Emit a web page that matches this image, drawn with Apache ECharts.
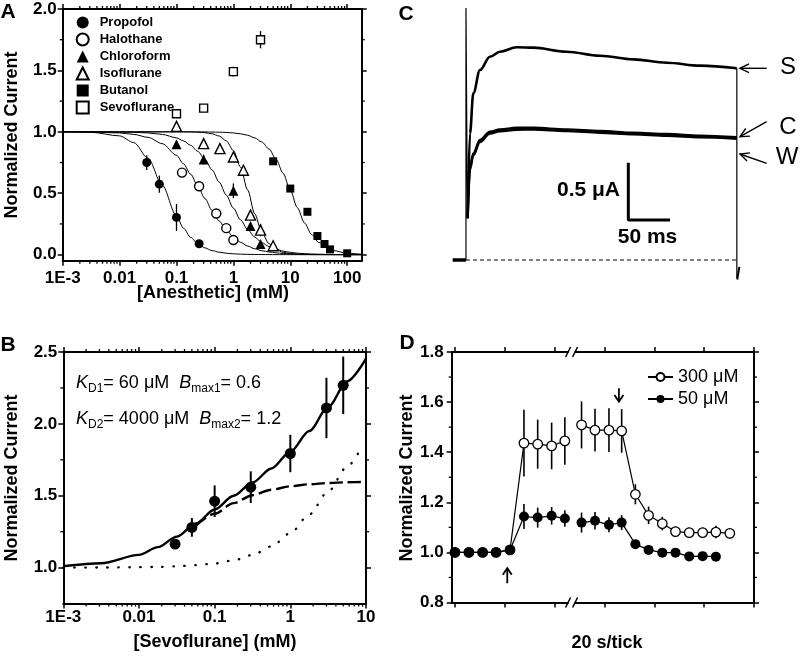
<!DOCTYPE html>
<html><head><meta charset="utf-8">
<script src="https://cdn.jsdelivr.net/npm/echarts@6/dist/echarts.min.js"></script>
<style>html,body{margin:0;padding:0;background:#fff}#c{width:800px;height:664px}</style>
</head><body><div id="c"></div>
<script>
// ================= DATA =================
// ---- Panel A : scatter points (concentration in mM, normalized current) ----
const aNames = ['Propofol','Halothane','Chloroform','Isoflurane','Butanol','Sevoflurane'];
const propofolX = [0.03, 0.05, 0.1, 0.25];
const propofolY = [0.75, 0.574, 0.303, 0.089];
const propofolErr = [0.06, 0.07, 0.11, 0.03];
const halothaneX = [0.125, 0.25, 0.5, 0.75, 1];
const halothaneY = [0.668, 0.557, 0.335, 0.216, 0.119];
const halothaneErr = [0.02, 0.02, 0.02, 0.02, 0.02];
const chloroformX = [0.1, 0.3, 1, 2, 3];
const chloroformY = [0.898, 0.774, 0.52, 0.233, 0.087];
const chloroformErr = [0.03, 0.04, 0.06, 0.03, 0.03];
const isofluraneX = [0.1, 0.3, 0.58, 1, 1.5, 2, 3, 5];
const isofluraneY = [1.044, 0.904, 0.863, 0.795, 0.687, 0.322, 0.2, 0.073];
const isofluraneErr = [0.03, 0.02, 0.02, 0.02, 0.02, 0.03, 0.05, 0.02];
const butanolX = [5, 10, 20, 30, 40, 50, 100];
const butanolY = [0.76, 0.538, 0.349, 0.152, 0.087, 0.043, 0.011];
const butanolErr = [0.02, 0.02, 0.02, 0.02, 0.02, 0.01, 0.01];
const sevofluraneX = [0.1, 0.3, 1, 3];
const sevofluraneY = [1.147, 1.193, 1.49, 1.75];
const sevofluraneErr = [0.02, 0.02, 0.04, 0.07];
// ---- Panel A : fitted curves ----
const fitX = [0.001, 0.00316, 0.01, 0.0178, 0.0316, 0.0562, 0.1, 0.133, 0.178, 0.237, 0.316, 0.422, 0.562, 0.75, 1, 1.33, 1.78, 2.37, 3.16, 4.22, 5.62, 7.5, 10, 13.3, 17.8, 23.7, 31.6, 56.2, 100, 178];
const fitPropofol = [1.0, 0.996, 0.967, 0.912, 0.785, 0.565, 0.315, 0.215, 0.140, 0.089, 0.055, 0.033, 0.020, 0.012, 0.007, 0.004, 0.0025, 0.0015, 0.001, 0.0006, 0.0004, 0.0002, 0.0001, 0, 0, 0, 0, 0, 0, 0];
const fitHalothane = [1.0, 0.998, 0.991, 0.979, 0.955, 0.904, 0.809, 0.739, 0.654, 0.558, 0.457, 0.360, 0.274, 0.201, 0.144, 0.101, 0.070, 0.048, 0.032, 0.022, 0.015, 0.010, 0.0067, 0.0045, 0.003, 0.002, 0.0013, 0.0006, 0.0003, 0.0001];
const fitChloroform = [1.0, 1.0, 0.998, 0.996, 0.991, 0.979, 0.951, 0.926, 0.890, 0.841, 0.775, 0.690, 0.591, 0.485, 0.379, 0.284, 0.205, 0.143, 0.098, 0.066, 0.044, 0.029, 0.019, 0.012, 0.008, 0.005, 0.0034, 0.0014, 0.0006, 0.0003];
const fitIsoflurane = [1.0, 1.0, 1.0, 1.0, 1.0, 1.0, 1.0, 1.0, 0.999, 0.997, 0.993, 0.984, 0.966, 0.926, 0.848, 0.714, 0.527, 0.333, 0.182, 0.090, 0.043, 0.019, 0.009, 0.004, 0.0018, 0.0008, 0.0004, 0.0001, 0, 0];
const fitButanol = [1.0, 1.0, 1.0, 1.0, 1.0, 1.0, 1.0, 1.0, 1.0, 1.0, 0.999, 0.998, 0.997, 0.995, 0.991, 0.984, 0.972, 0.951, 0.917, 0.861, 0.777, 0.662, 0.524, 0.383, 0.258, 0.164, 0.099, 0.034, 0.011, 0.0035];
const aXTicks = [0.001, 0.01, 0.1, 1, 10, 100];
const aXLabels = ['1E-3', '0.01', '0.1', '1', '10', '100'];
const aYTicks = [0, 0.5, 1, 1.5, 2];
const aYMinor = [0.25, 0.75, 1.25, 1.75];

// ---- Panel B ----
const sevoX = [0.03, 0.05, 0.1, 0.3, 1, 3, 5];
const sevoY = [1.164, 1.28, 1.462, 1.56, 1.794, 2.111, 2.268];
const sevoErr = [0.03, 0.065, 0.11, 0.11, 0.13, 0.21, 0.2];
const bFitX = [0.001, 0.00316, 0.01, 0.0178, 0.0316, 0.0562, 0.1, 0.178, 0.316, 0.562, 1, 1.78, 3.16, 5.62, 10];
const bFitTotal = [1.010, 1.031, 1.089, 1.143, 1.216, 1.307, 1.404, 1.500, 1.592, 1.690, 1.806, 1.950, 2.118, 2.295, 2.454];
const bSite1X = [0.0562, 0.1, 0.178, 0.316, 0.562, 1, 1.78, 3.16, 5.62, 10];
const bSite1Y = [1.290, 1.375, 1.449, 1.504, 1.542, 1.566, 1.580, 1.589, 1.594, 1.596];
const bSite2X = [0.001, 0.00316, 0.01, 0.0178, 0.0316, 0.0562, 0.1, 0.178, 0.316, 0.562, 1, 1.78, 3.16, 5.62, 7.94];
const bSite2Y = [1.0, 1.001, 1.003, 1.005, 1.009, 1.017, 1.029, 1.051, 1.088, 1.148, 1.24, 1.370, 1.530, 1.701, 1.798];
const bXTicks = [0.001, 0.01, 0.1, 1, 10];
const bXLabels = ['1E-3', '0.01', '0.1', '1', '10'];
const bYTicks = [1, 1.5, 2, 2.5];
const bYMinor = [1.25, 1.75, 2.25];

// ---- Panel C : current traces (time ms, current µA) ----
const cPreT = [-16, 0];
const cPreI = [0, 0];
const cBaseT = [0, 325];
const cBaseI = [0, 0];
const cSpikeT = [0, 0, 1.2, 2.0];
const cSpikeI = [0, 2.2, 0.9, 0.364];
const cTraceT = [2.0, 4.8, 8.8, 16.8, 28.8, 40.8, 60.8, 80.8, 120.8, 160.8, 200.9, 240.9, 280.9, 324.9];
const cTraceS = [0.364, 1.105, 1.454, 1.658, 1.774, 1.818, 1.856, 1.853, 1.818, 1.783, 1.751, 1.722, 1.696, 1.673];
const cTraceC = [0.364, 0.814, 0.931, 1.047, 1.120, 1.140, 1.154, 1.154, 1.140, 1.126, 1.111, 1.099, 1.085, 1.071];
const cTraceW = [0.364, 0.79, 0.912, 1.030, 1.104, 1.124, 1.137, 1.138, 1.125, 1.111, 1.097, 1.085, 1.071, 1.058];
const cEndT = [325, 325];
const cEndI = [1.673, -0.16];
const cTailT = [325.5, 328];
const cTailI = [-0.17, -0.06];
const cBarT = [194.8, 194.8, 244.8];
const cBarI = [0.849, 0.349, 0.349];

// ---- Panel D (time s, normalized current) ----
const dNames = ['300 μM', '50 μM'];
const dT = [0, 5.6, 11.1, 16.5, 22.1, 27.7, 33.2, 38.8, 44.1, 50.8, 56.2, 61.8, 66.9, 72.4, 77.7, 83.2, 88.5, 94.0, 99.4, 104.7, 110.3];
const d300 = [1.0, 1.0, 1.0, 1.0, 1.01, 1.436, 1.432, 1.425, 1.445, 1.509, 1.488, 1.488, 1.485, 1.232, 1.148, 1.115, 1.083, 1.079, 1.079, 1.081, 1.076];
const d300Err = [0, 0, 0, 0, 0, 0.133, 0.098, 0.093, 0.095, 0.094, 0.085, 0.087, 0.087, 0.04, 0.035, 0.027, 0.02, 0.02, 0.02, 0.025, 0.02];
const d50 = [1.0, 1.0, 1.0, 1.0, 1.01, 1.143, 1.139, 1.146, 1.135, 1.119, 1.126, 1.110, 1.119, 1.033, 1.010, 0.999, 0.999, 0.984, 0.985, 0.983];
const d50Err = [0, 0, 0, 0, 0.01, 0.05, 0.04, 0.035, 0.033, 0.04, 0.035, 0.03, 0.03, 0.01, 0.01, 0.01, 0.01, 0.01, 0.01, 0.01];
const dBreakT = 46.8;
const dBreakAfter = 8;
const dArrows = [[21.0, 0.877, 0.937], [65.8, 1.655, 1.602]];
const dXTicks = [0, 20, 40, 60, 80, 100, 120];
const dYTicks = [0.8, 1.0, 1.2, 1.4, 1.6, 1.8];
const dYMinor = [0.9, 1.1, 1.3, 1.5, 1.7];
const logMult = [2, 3, 4, 5, 6, 7, 8, 9];

// ================= CHART =================
const FONT = '"Liberation Sans", Arial, Helvetica, sans-serif';
const aMinorX = [0.001, 0.01, 0.1, 1, 10, 100].flatMap(d => logMult.map(m => m * d)).filter(v => v < 180);
const bMinorX = [0.001, 0.01, 0.1, 1].flatMap(d => logMult.map(m => m * d));

function logLabel(ticks, labels) {
  return v => {
    const e = Math.round(Math.log10(v));
    const i = ticks.findIndex(t => Math.round(Math.log10(t)) === e);
    return i >= 0 ? labels[i] : '';
  };
}
function axis(o) {
  const a = {
    gridIndex: o.grid, type: o.type, min: o.min, max: o.max, position: o.pos,
    axisLine: {show: true, onZero: false, lineStyle: {color: '#000', width: 2}},
    axisTick: {show: true, inside: false, length: 5, lineStyle: {color: '#000', width: 1.5}, customValues: o.ticks},
    axisLabel: o.labels ? {show: true, customValues: o.ticks, formatter: o.labels, color: '#000', fontFamily: FONT,
      fontWeight: 'bold', fontSize: 17, margin: o.margin, showMinLabel: true, showMaxLabel: true, hideOverlap: false} : {show: false},
    splitLine: {show: false}, minorTick: {show: false}, minorSplitLine: {show: false}, silent: true
  };
  if (o.type === 'log') a.logBase = 10;
  return a;
}
function minorSeries(xi, yi, xs, ys, xRef, yRef, len) {
  const data = xs.map(v => [v, yRef, 0]).concat(ys.map(v => [xRef, v, 1]));
  return {
    type: 'custom', xAxisIndex: xi, yAxisIndex: yi, silent: true, z: 5, clip: false, data,
    encode: {x: 0, y: 1},
    renderItem: (params, api) => {
      const cs = params.coordSys;
      const p = api.coord([api.value(0), api.value(1)]);
      const st = {stroke: '#000', lineWidth: 1.3};
      if (api.value(2) === 0) {
        const yb = cs.y + cs.height, yt = cs.y;
        return {type: 'group', children: [
          {type: 'line', shape: {x1: p[0], y1: yb, x2: p[0], y2: yb + len}, style: st},
          {type: 'line', shape: {x1: p[0], y1: yt, x2: p[0], y2: yt - len}, style: st}]};
      }
      const xl = cs.x, xr = cs.x + cs.width;
      return {type: 'group', children: [
        {type: 'line', shape: {x1: xl, y1: p[1], x2: xl - len, y2: p[1]}, style: st},
        {type: 'line', shape: {x1: xr, y1: p[1], x2: xr + len, y2: p[1]}, style: st}]};
    }
  };
}
function errSeries(xi, yi, xs, ys, es, w) {
  return {
    type: 'custom', xAxisIndex: xi, yAxisIndex: yi, silent: true, z: 2, clip: false,
    data: xs.map((x, i) => [x, ys[i], es[i]]), encode: {x: 0, y: 1},
    renderItem: (params, api) => {
      const x = api.value(0), y = api.value(1), e = api.value(2);
      if (!e) return {type: 'group', children: []};
      const p1 = api.coord([x, y - e]), p2 = api.coord([x, y + e]);
      return {type: 'line', shape: {x1: p1[0], y1: p1[1], x2: p2[0], y2: p2[1]}, style: {stroke: '#000', lineWidth: w}};
    }
  };
}
function pairs(xs, ys) { return xs.map((x, i) => [x, ys[i]]); }
function line(xi, yi, xs, ys, st, smooth) {
  return {type: 'line', xAxisIndex: xi, yAxisIndex: yi, data: pairs(xs, ys), showSymbol: false, symbol: 'none',
    smooth: smooth || false, smoothMonotone: 'x', lineStyle: Object.assign({color: '#000', width: 1}, st), silent: true, z: 3};
}

const openStyle = {color: '#fff', borderColor: '#000', borderWidth: 1.4, opacity: 1};
const fillStyle = {color: '#000', borderColor: '#000', borderWidth: 0, opacity: 1};
const aSets = [
  {x: propofolX, y: propofolY, e: propofolErr, symbol: 'circle', size: 9, st: fillStyle},
  {x: halothaneX, y: halothaneY, e: halothaneErr, symbol: 'circle', size: 9, st: openStyle},
  {x: chloroformX, y: chloroformY, e: chloroformErr, symbol: 'triangle', size: 10, st: fillStyle},
  {x: isofluraneX, y: isofluraneY, e: isofluraneErr, symbol: 'triangle', size: 10, st: openStyle},
  {x: butanolX, y: butanolY, e: butanolErr, symbol: 'rect', size: 8, st: fillStyle},
  {x: sevofluraneX, y: sevofluraneY, e: sevofluraneErr, symbol: 'rect', size: 8, st: openStyle}
];
const aFits = [fitPropofol, fitHalothane, fitChloroform, fitIsoflurane, fitButanol];

const series = [];
// Panel A
aFits.forEach(f => series.push(line(0, 0, fitX, f, {width: 1}, 0.3)));
aSets.forEach((s, i) => {
  series.push(errSeries(0, 0, s.x, s.y, s.e, 1.3));
  series.push({type: 'scatter', name: aNames[i], xAxisIndex: 0, yAxisIndex: 0, symbol: s.symbol, symbolSize: s.size,
    symbolKeepAspect: true, itemStyle: s.st, data: pairs(s.x, s.y), z: 4, silent: true});
});
series.push(minorSeries(0, 0, aMinorX, aYMinor, 1, 1, 3));
// Panel B
series.push(line(2, 2, bSite2X, bSite2Y, {width: 2.3, type: [0.5, 10.5], cap: 'round'}, 0.3));
series.push(line(2, 2, bSite1X, bSite1Y, {width: 2.4, type: [13, 5]}, 0.3));
series.push(line(2, 2, bFitX, bFitTotal, {width: 2.4}, 0.3));
series.push(errSeries(2, 2, sevoX, sevoY, sevoErr, 2));
series.push({type: 'scatter', xAxisIndex: 2, yAxisIndex: 2, symbol: 'circle', symbolSize: 11, itemStyle: fillStyle,
  data: pairs(sevoX, sevoY), z: 4, silent: true});
series.push(minorSeries(2, 2, bMinorX, bYMinor, 1, 1.5, 3));
// Panel C
series.push(line(4, 4, cBaseT, cBaseI, {width: 1, type: [4, 3]}));
series.push(line(4, 4, cPreT, cPreI, {width: 3.5}));
series.push(line(4, 4, cSpikeT, cSpikeI, {width: 1.2}));
series.push(line(4, 4, cTraceT, cTraceW, {width: 2.4}, 0.35));
series.push(line(4, 4, cTraceT, cTraceC, {width: 2.4}, 0.35));
series.push(line(4, 4, cTraceT, cTraceS, {width: 2.6}, 0.35));
series.push(line(4, 4, cEndT, cEndI, {width: 1.2}));
series.push(line(4, 4, cTailT, cTailI, {width: 2}));
series.push(line(4, 4, cBarT, cBarI, {width: 3}));
// Panel D
function dData(ys) {
  const d = pairs(dT.slice(0, ys.length), ys);
  d.splice(dBreakAfter + 1, 0, [dBreakT, null]);
  return d;
}
series.push(errSeries(5, 5, dT.slice(0, d300.length), d300, d300Err, 1.6));
series.push(errSeries(5, 5, dT.slice(0, d50.length), d50, d50Err, 1.6));
series.push({type: 'line', name: dNames[0], xAxisIndex: 5, yAxisIndex: 5, data: dData(d300), symbol: 'circle', symbolSize: 9.5,
  showSymbol: true, connectNulls: false, lineStyle: {color: '#000', width: 1.2}, itemStyle: {color: '#fff', borderColor: '#000', borderWidth: 1.3, opacity: 1}, z: 4, silent: true});
series.push({type: 'line', name: dNames[1], xAxisIndex: 5, yAxisIndex: 5, data: dData(d50), symbol: 'circle', symbolSize: 10,
  showSymbol: true, connectNulls: false, lineStyle: {color: '#000', width: 1.2}, itemStyle: {color: '#000', borderColor: '#000', borderWidth: 0, opacity: 1}, z: 5, silent: true});
series.push(minorSeries(5, 5, [], dYMinor, 60, 1.3, 3));
series.push({ // axis break marks
  type: 'custom', xAxisIndex: 5, yAxisIndex: 5, silent: true, z: 6, clip: false,
  data: [[dBreakT, 0.8], [dBreakT, 1.8]], encode: {x: 0, y: 1},
  renderItem: (params, api) => {
    const p = api.coord([api.value(0), api.value(1)]);
    const st = {stroke: '#000', lineWidth: 1.5};
    return {type: 'group', children: [
      {type: 'rect', shape: {x: p[0] - 3, y: p[1] - 3, width: 6, height: 6}, style: {fill: '#fff'}},
      {type: 'line', shape: {x1: p[0] - 6, y1: p[1] + 5, x2: p[0] - 1, y2: p[1] - 5}, style: st},
      {type: 'line', shape: {x1: p[0] + 1, y1: p[1] + 5, x2: p[0] + 6, y2: p[1] - 5}, style: st}]};
  }
});
series.push({ // arrows marking application / washout
  type: 'custom', xAxisIndex: 5, yAxisIndex: 5, silent: true, z: 6, clip: false,
  data: dArrows, encode: {x: 0, y: 1},
  renderItem: (params, api) => {
    const p1 = api.coord([api.value(0), api.value(1)]);
    const p2 = api.coord([api.value(0), api.value(2)]);
    const dir = p2[1] < p1[1] ? 1 : -1;
    const st = {stroke: '#000', lineWidth: 1.8, fill: null};
    return {type: 'group', children: [
      {type: 'line', shape: {x1: p1[0], y1: p1[1], x2: p2[0], y2: p2[1]}, style: st},
      {type: 'polyline', shape: {points: [[p2[0] - 4.5, p2[1] + dir * 6.5], [p2[0], p2[1]], [p2[0] + 4.5, p2[1] + dir * 6.5]]}, style: st}]};
  }
});

// ---- text annotations ----
const txt = (text, x, y, o) => ({type: 'text', x, y, rotation: (o && o.rot) || 0, silent: true, z: 10,
  style: Object.assign({text, x: 0, y: 0, fill: '#000', fontFamily: FONT, fontSize: 18, fontWeight: 'bold', align: 'center', verticalAlign: 'middle'}, o && o.style)});
const richK = {
  i: {fontFamily: FONT, fontSize: 18, fontStyle: 'italic', lineHeight: 24, fill: '#000'},
  n: {fontFamily: FONT, fontSize: 18, lineHeight: 24, fill: '#000'},
  s: {fontFamily: FONT, fontSize: 12, lineHeight: 13, verticalAlign: 'bottom', fill: '#000'}
};
function arrowEls(x1, y1, x2, y2) {
  const a = Math.atan2(y1 - y2, x1 - x2), L = 10, h = 0.45;
  const st = {stroke: '#000', lineWidth: 1.4, fill: null};
  return [
    {type: 'line', silent: true, shape: {x1, y1, x2, y2}, style: st},
    {type: 'polyline', silent: true, shape: {points: [[x2 + L * Math.cos(a + h), y2 + L * Math.sin(a + h)], [x2, y2], [x2 + L * Math.cos(a - h), y2 + L * Math.sin(a - h)]]}, style: st}
  ];
}
const graphic = [
  txt('A', 8, 12, {style: {fontSize: 21}}),
  txt('B', 8, 345, {style: {fontSize: 21}}),
  txt('C', 406, 14, {style: {fontSize: 21}}),
  txt('D', 407, 343, {style: {fontSize: 21}}),
  txt('Normalized Current', 12, 135, {rot: Math.PI / 2}),
  txt('Normalized Current', 12, 478, {rot: Math.PI / 2}),
  txt('Normalized Current', 407, 478, {rot: Math.PI / 2}),
  txt('[Anesthetic] (mM)', 213, 293),
  txt('[Sevoflurane] (mM)', 215, 642),
  txt('20 s/tick', 607, 643),
  txt('', 76, 383, {style: {text: '{i|K}{s|D1}{n|= 60 μM  }{i|B}{s|max1}{n|= 0.6}', rich: richK, align: 'left', fontWeight: 'normal'}}),
  txt('', 76, 419, {style: {text: '{i|K}{s|D2}{n|= 4000 μM  }{i|B}{s|max2}{n|= 1.2}', rich: richK, align: 'left', fontWeight: 'normal'}}),
  txt('0.5 μA', 620, 190, {style: {fontSize: 21, align: 'right'}}),
  txt('50 ms', 647.5, 237, {style: {fontSize: 21}}),
  txt('S', 788, 67, {style: {fontSize: 24, fontWeight: 'normal'}}),
  txt('C', 788, 127, {style: {fontSize: 24, fontWeight: 'normal'}}),
  txt('W', 787, 157, {style: {fontSize: 24, fontWeight: 'normal'}}),
  ...arrowEls(766.7, 68.3, 740, 68.3),
  ...arrowEls(766.7, 121.7, 740, 136.7),
  ...arrowEls(766.7, 163.3, 740, 154)
];

const option = {
  animation: false,
  backgroundColor: '#fff',
  textStyle: {fontFamily: FONT},
  grid: [
    {left: 62.7, top: 9, width: 299, height: 251.8, containLabel: false, outerBoundsMode: 'none'},
    {left: 63.3, top: 352, width: 302.7, height: 251.6, containLabel: false, outerBoundsMode: 'none'},
    {left: 449.3, top: 7.9, width: 304.2, height: 286.5, containLabel: false, outerBoundsMode: 'none'},
    {left: 451.7, top: 352, width: 302.3, height: 250.5, containLabel: false, outerBoundsMode: 'none'}
  ],
  xAxis: [
    axis({grid: 0, type: 'log', min: 0.001, max: 180, pos: 'bottom', ticks: aXTicks, labels: logLabel(aXTicks, aXLabels), margin: 9}),
    axis({grid: 0, type: 'log', min: 0.001, max: 180, pos: 'top', ticks: aXTicks}),
    axis({grid: 1, type: 'log', min: 0.001, max: 10, pos: 'bottom', ticks: bXTicks, labels: logLabel(bXTicks, bXLabels), margin: 5}),
    axis({grid: 1, type: 'log', min: 0.001, max: 10, pos: 'top', ticks: bXTicks}),
    {gridIndex: 2, type: 'value', min: -20, max: 345, show: false},
    axis({grid: 3, type: 'value', min: -1.3, max: 120, pos: 'bottom', ticks: dXTicks}),
    axis({grid: 3, type: 'value', min: -1.3, max: 120, pos: 'top', ticks: dXTicks})
  ],
  yAxis: [
    axis({grid: 0, type: 'value', min: -0.05, max: 2, pos: 'left', ticks: aYTicks, labels: v => v.toFixed(1), margin: 6}),
    axis({grid: 0, type: 'value', min: -0.05, max: 2, pos: 'right', ticks: aYTicks}),
    axis({grid: 1, type: 'value', min: 0.75, max: 2.5, pos: 'left', ticks: bYTicks, labels: v => v.toFixed(1), margin: 6}),
    axis({grid: 1, type: 'value', min: 0.75, max: 2.5, pos: 'right', ticks: bYTicks}),
    {gridIndex: 2, type: 'value', min: -0.3, max: 2.2, show: false},
    axis({grid: 3, type: 'value', min: 0.8, max: 1.8, pos: 'left', ticks: dYTicks, labels: v => v.toFixed(1), margin: 8}),
    axis({grid: 3, type: 'value', min: 0.8, max: 1.8, pos: 'right', ticks: dYTicks})
  ],
  legend: [
    {data: aNames, orient: 'vertical', left: 75.7, top: 16, padding: 0, itemWidth: 12, itemHeight: 12, itemGap: 3.5, selectedMode: false,
      symbolKeepAspect: true,
      textStyle: {color: '#000', fontFamily: FONT, fontWeight: 'bold', fontSize: 13, padding: [0, 0, 0, 6]}},
    {data: dNames, orient: 'vertical', left: 647, top: 368, padding: 0, itemWidth: 25, itemHeight: 10, itemGap: 4, selectedMode: false,
      textStyle: {color: '#000', fontFamily: FONT, fontSize: 18}}
  ],
  graphic,
  series
};
const chart = echarts.init(document.getElementById('c'), null, {renderer: 'canvas'});
chart.setOption(option);
</script></body></html>
